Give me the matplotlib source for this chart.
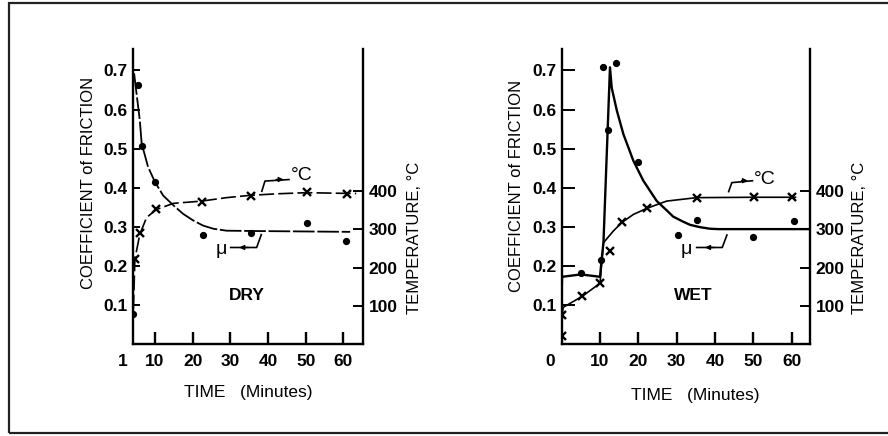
import matplotlib.pyplot as plt
from matplotlib.patches import Rectangle
from matplotlib.transforms import blended_transform_factory

plt.rcParams["font.family"] = ["Liberation Sans", "DejaVu Sans"]

time_ticks = [10, 20, 30, 40, 50, 60]
coef_ticks = [0.1, 0.2, 0.3, 0.4, 0.5, 0.6, 0.7]
temp_ticks = [100, 200, 300, 400]

# DRY panel
dry_mu_t = [4.3, 5.4, 6.5, 10.0, 22.8, 35.4, 50.4, 60.7]
dry_mu = [0.078, 0.663, 0.506, 0.415, 0.278, 0.285, 0.31, 0.264]
dry_mu_line_t = [4.5, 4.7, 6.0, 6.5, 8.2, 10.0, 12.2, 14.9, 17.5, 20.2, 22.8, 25.5, 29.0, 38.0, 50.0, 61.8]
dry_mu_line = [0.693, 0.676, 0.573, 0.513, 0.453, 0.415, 0.38, 0.355, 0.333, 0.316, 0.303, 0.295, 0.29, 0.289, 0.288, 0.287]
dry_temp_t = [4.7, 6.0, 10.4, 22.4, 35.4, 50.4, 61.0]
dry_temp = [222, 290, 352, 372, 387, 398, 392]
dry_temp_line_t = [4.3, 4.7, 6.0, 7.8, 10.4, 14.9, 22.4, 29.0, 35.2, 42.3, 50.2, 61.7, 63.4]
dry_temp_line = [90, 222, 287, 331, 352, 368, 374, 383, 389, 393, 396, 394, 394]

# WET panel
wet_mu_t = [5.0, 10.3, 10.7, 12.2, 14.2, 20.0, 30.3, 35.2, 50.0, 60.5]
wet_mu = [0.181, 0.214, 0.71, 0.548, 0.719, 0.467, 0.279, 0.317, 0.275, 0.314]
wet_mu_line_t = [0.0, 0.1, 5.0, 10.0, 10.4, 10.9, 12.6, 13.05, 14.4, 16.1, 18.7, 21.3,
                 24.8, 27.4, 29.1, 31.7, 33.5, 36.1, 38.7, 41.0, 64.8]
wet_mu_line = [0.14, 0.172, 0.178, 0.172, 0.214, 0.26, 0.708, 0.656, 0.597, 0.537, 0.469, 0.418,
               0.366, 0.342, 0.326, 0.313, 0.305, 0.299, 0.295, 0.294, 0.294]
wet_temp_t = [0.05, 0.1, 5.4, 10.0, 12.6, 15.7, 22.2, 35.2, 50.2, 60.2]
wet_temp = [22, 76, 125, 159, 244, 318, 355, 383, 385, 385]
wet_temp_line_t = [0.05, 0.1, 0.4, 5.4, 10.0, 10.6, 10.9, 13.5, 15.7, 18.7, 22.2, 27.4, 35.2, 50.2, 61.0]
wet_temp_line = [22, 76, 96, 125, 159, 230, 265, 296, 318, 339, 355, 374, 383, 384, 384]

# leader lines (x, coefficient) for the curve labels
dry_c_lead = ([38.3, 39.2, 45.8], [0.389, 0.417, 0.421])
dry_mu_lead = ([29.9, 37.0, 38.3], [0.247, 0.247, 0.282])
wet_c_lead = ([43.5, 44.4, 50.0], [0.388, 0.413, 0.418])
wet_mu_lead = ([35.0, 41.9, 43.2], [0.247, 0.247, 0.281])

fig = plt.figure(figsize=(8.88, 4.36), dpi=100)
fig.patches.append(Rectangle((0.0101, 0.0069), 1.2, 0.986, transform=fig.transFigure,
                             fill=False, lw=1.6, ec="#222222", clip_on=False))


def lead(ax, xs, ys, right):
    ax.plot(xs, ys, color="black", lw=1.2, solid_capstyle="butt")
    if right:
        x0, x1, y = xs[1], xs[2], ys[2]
        a, b = x0 + (x1 - x0) * 0.45, x0 + (x1 - x0) * 0.75
    else:
        x0, x1, y = xs[0], xs[1], ys[0]
        a, b = x0 + (x1 - x0) * 0.7, x0 + (x1 - x0) * 0.35
    ax.annotate("", xy=(b, y), xytext=(a, y),
                arrowprops=dict(arrowstyle="-|>", color="black", lw=1.0,
                                mutation_scale=7, shrinkA=0, shrinkB=0))


def panel(rect, xlim, first, mu_t, mu, mu_line_t, mu_line, tp_t, tp, tp_line_t, tp_line,
          mu_style, tp_style, mu_lw, tag, c_lead, c_pos, mu_lead, mu_pos, lab):
    ax = fig.add_axes(rect)
    ax2 = ax.twinx()
    ax.set_xlim(*xlim)
    ax.set_ylim(0, 0.755)
    ax2.set_ylim(0, 772)

    ax.plot(mu_line_t, mu_line, color="black", lw=mu_lw, linestyle=mu_style)
    ax.plot(mu_t, mu, "o", color="black", ms=4.2)
    ax2.plot(tp_line_t, tp_line, color="black", lw=1.2, linestyle=tp_style)
    ax2.plot(tp_t, tp, "x", color="black", ms=6, mew=1.7)

    for a in (ax, ax2):
        a.spines["top"].set_visible(False)
        for s in ("left", "right", "bottom"):
            a.spines[s].set_linewidth(1.7)
    ax.spines["right"].set_visible(False)
    ax.spines["bottom"].set_visible(False)
    ax2.spines["left"].set_visible(False)

    ax.set_yticks(coef_ticks)
    ax.set_yticklabels([f"{v:.1f}" for v in coef_ticks], fontweight="bold")
    ax.set_xticks(time_ticks)
    ax.set_xticklabels([str(v) for v in time_ticks], fontweight="bold")
    ax.tick_params(axis="y", direction="in", length=lab["ylen"], width=1.4, pad=4, labelsize=12.5)
    ax.tick_params(axis="x", direction="in", length=9, width=1.7, pad=7, labelsize=12.5)
    ax2.set_yticks(temp_ticks)
    ax2.set_yticklabels([str(v) for v in temp_ticks], fontweight="bold")
    ax2.tick_params(axis="y", direction="in", length=7, width=1.4, pad=4, labelsize=12.5)

    tr = blended_transform_factory(ax.transData, ax.transAxes)
    ax.annotate(first, xy=(max(float(first), xlim[0]), 0), xycoords=tr, xytext=(lab["fx"], -7),
                textcoords="offset points", ha="center", va="top", fontsize=12.5,
                fontweight="bold")

    ax.text(lab["cx"], lab["cy"], "COEFFICIENT of FRICTION", rotation=90, ha="center",
            va="center", transform=ax.transAxes, fontsize=12)
    ax.text(lab["tx"], 0.359, "TEMPERATURE, °C", rotation=90, ha="center", va="center",
            transform=ax.transAxes, fontsize=12)
    ax.text(lab["mx"], lab["my"], "TIME   (Minutes)", ha="center", va="center",
            transform=ax.transAxes, fontsize=12.5)
    ax.text(34.3, 0.123, tag, ha="center", va="center", fontsize=12.5, fontweight="bold")

    lead(ax, *c_lead, right=True)
    lead(ax, *mu_lead, right=False)
    ax.text(c_pos[0], c_pos[1], "°C", ha="center", va="center", fontsize=14)
    ax.text(mu_pos[0], mu_pos[1], "μ", ha="center", va="center", fontsize=14)
    return ax


panel([133 / 888, 92 / 436, 230 / 888, 295 / 436], (4.2, 65.2), "1",
      dry_mu_t, dry_mu, dry_mu_line_t, dry_mu_line,
      dry_temp_t, dry_temp, dry_temp_line_t, dry_temp_line,
      (0, (12, 1.5)), (0, (9, 2.5)), 1.3, "DRY",
      dry_c_lead, (48.9, 0.432), dry_mu_lead, (27.7, 0.243),
      dict(ylen=5, fx=-7.5, cx=-0.195, cy=0.546, tx=1.222, mx=0.5, my=-0.163))

panel([561.7 / 888, 92 / 436, 248.3 / 888, 295 / 436], (0, 64.8), "0",
      wet_mu_t, wet_mu, wet_mu_line_t, wet_mu_line,
      wet_temp_t, wet_temp, wet_temp_line_t, wet_temp_line,
      "-", "-", 1.7, "WET",
      wet_c_lead, (53.1, 0.422), wet_mu_lead, (32.6, 0.243),
      dict(ylen=9, fx=-8, cx=-0.182, cy=0.536, tx=1.199, mx=0.536, my=-0.173))

fig.savefig("out.png", dpi=100)
